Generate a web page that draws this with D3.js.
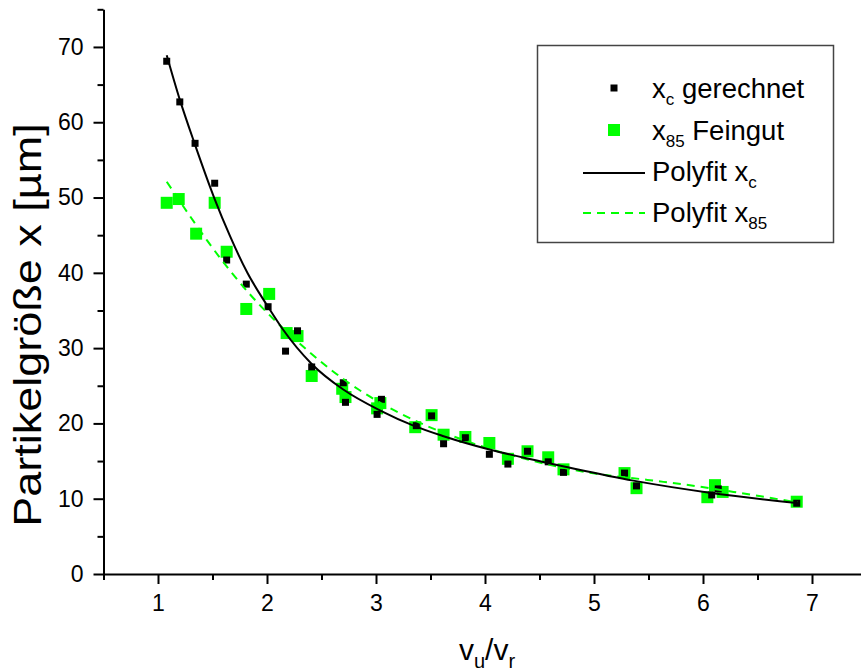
<!DOCTYPE html>
<html>
<head>
<meta charset="utf-8">
<script src="https://cdn.jsdelivr.net/npm/d3@7"></script>
<style>
  body { margin: 0; background: #fff; }
  svg text { font-family: "Liberation Sans", Arial, sans-serif; }
</style>
</head>
<body>
<div id="chart"></div>
<script>
// x_c gerechnet (black squares)
var xcX = [1.08, 1.20, 1.34, 1.52, 1.63, 1.81, 2.01, 2.17, 2.28, 2.41, 2.70, 2.72, 3.01, 3.05,
           3.37, 3.51, 3.62, 3.82, 4.04, 4.21, 4.39, 4.58, 4.72, 5.28, 5.39, 6.08, 6.14, 6.86];
var xcY = [68.1, 62.7, 57.2, 51.9, 41.7, 38.5, 35.5, 29.6, 32.3, 27.5, 25.4, 22.8, 21.2, 23.2,
           19.7, 21.0, 17.3, 18.1, 15.9, 14.6, 16.3, 14.9, 13.5, 13.4, 11.7, 10.5, 11.3, 9.4];

// x_85 Feingut (green squares)
var x85X = [1.08, 1.19, 1.35, 1.52, 1.63, 1.81, 2.02, 2.18, 2.28, 2.41, 2.69, 2.72, 3.01, 3.04,
            3.36, 3.51, 3.62, 3.82, 4.04, 4.21, 4.39, 4.58, 4.72, 5.28, 5.39, 6.04, 6.11, 6.18, 6.86];
var x85Y = [49.3, 49.8, 45.2, 49.3, 42.8, 35.2, 37.2, 32.0, 31.6, 26.3, 24.6, 23.5, 22.0, 22.7,
            19.5, 21.1, 18.5, 18.2, 17.4, 15.3, 16.3, 15.5, 13.9, 13.4, 11.4, 10.2, 11.8, 10.9, 9.6];

// Polyfit x_c
var fitXcX = [1.08, 1.20, 1.34, 1.52, 1.66, 1.82, 2.00, 2.14, 2.41, 2.70, 3.04, 3.36, 3.62, 4.05, 4.40, 4.75, 5.36, 6.06, 6.88];
var fitXcY = [68.9, 63.0, 57.0, 49.8, 44.9, 40.0, 35.7, 32.6, 27.9, 24.5, 21.7, 19.6, 18.3, 16.5, 15.3, 14.2, 12.4, 10.8, 9.4];

// Polyfit x_85
var fit85X = [1.08, 1.29, 1.45, 1.66, 1.84, 2.05, 2.38, 2.58, 2.84, 3.16, 3.43, 3.80, 4.26, 4.69, 4.94, 5.49, 5.97, 6.28, 6.87];
var fit85Y = [52.1, 47.6, 44.3, 40.3, 37.2, 34.0, 29.6, 27.2, 24.5, 21.8, 19.9, 17.8, 15.7, 14.2, 13.5, 12.5, 11.6, 10.9, 9.5];

var xTicks = [1, 2, 3, 4, 5, 6, 7];
var xMinor = [0.5, 1.5, 2.5, 3.5, 4.5, 5.5, 6.5, 7.5];
var yTicks = [0, 10, 20, 30, 40, 50, 60, 70];
var yMinor = [5, 15, 25, 35, 45, 55, 65, 75];

var W = 861, H = 672;
var green = "#00ff00";

var svg = d3.select("#chart").append("svg")
  .attr("width", W)
  .attr("height", H);

var x = d3.scaleLinear().domain([0.5, 7.5]).range([103.5, 866.5]);
var y = d3.scaleLinear().domain([0, 75]).range([574, 9.3]);

function styleAxis(g) {
  g.selectAll("path, line").attr("stroke", "#000").attr("stroke-width", 2);
  g.selectAll("text").attr("font-size", 23).attr("fill", "#000");
}

// minor ticks first, then major axes on top
svg.append("g").attr("transform", "translate(0,574)")
  .call(d3.axisBottom(x).tickValues(xMinor).tickSize(6).tickFormat("").tickSizeOuter(0))
  .call(styleAxis).select(".domain").remove();
svg.append("g").attr("transform", "translate(103.5,0)")
  .call(d3.axisLeft(y).tickValues(yMinor).tickSize(6).tickFormat("").tickSizeOuter(0))
  .call(styleAxis).select(".domain").remove();

svg.append("g").attr("transform", "translate(0,574)")
  .call(d3.axisBottom(x).tickValues(xTicks).tickFormat(d3.format("d"))
    .tickSize(10).tickPadding(11).tickSizeOuter(0))
  .call(styleAxis);
svg.append("g").attr("transform", "translate(103.5,0)")
  .call(d3.axisLeft(y).tickValues(yTicks).tickFormat(d3.format("d"))
    .tickSize(10).tickPadding(10).tickSizeOuter(0))
  .call(styleAxis);

// markers
var gs = 12, bs = 7;
svg.append("g").selectAll("rect")
  .data(d3.range(x85X.length))
  .enter().append("rect")
  .attr("x", function(i) { return x(x85X[i]) - gs / 2; })
  .attr("y", function(i) { return y(x85Y[i]) - gs / 2; })
  .attr("width", gs).attr("height", gs)
  .attr("fill", green);

svg.append("g").selectAll("rect")
  .data(d3.range(xcX.length))
  .enter().append("rect")
  .attr("x", function(i) { return x(xcX[i]) - bs / 2; })
  .attr("y", function(i) { return y(xcY[i]) - bs / 2; })
  .attr("width", bs).attr("height", bs)
  .attr("fill", "#000");

// fit lines
var line = d3.line()
  .x(function(d) { return x(d[0]); })
  .y(function(d) { return y(d[1]); })
  .curve(d3.curveMonotoneX);

svg.append("path")
  .attr("d", line(d3.zip(fit85X, fit85Y)))
  .attr("fill", "none").attr("stroke", green).attr("stroke-width", 2)
  .attr("stroke-dasharray", "8,6");

svg.append("path")
  .attr("d", line(d3.zip(fitXcX, fitXcY)))
  .attr("fill", "none").attr("stroke", "#000").attr("stroke-width", 2);

// axis titles (y title is a bit narrow in the original)
svg.append("text")
  .attr("transform", "translate(41,325) rotate(-90) scale(1,0.86)")
  .attr("text-anchor", "middle")
  .attr("font-size", 45)
  .text("Partikelgröße x [µm]");

var xt = svg.append("text")
  .attr("x", 487).attr("y", 660)
  .attr("text-anchor", "middle")
  .attr("font-size", 30);
xt.append("tspan").text("v");
xt.append("tspan").attr("font-size", 20).attr("dy", 8).text("u");
xt.append("tspan").attr("dy", -8).text("/v");
xt.append("tspan").attr("font-size", 20).attr("dy", 8).text("r");

// legend
var lg = svg.append("g");
lg.append("rect")
  .attr("x", 537.5).attr("y", 45.5).attr("width", 296).attr("height", 197)
  .attr("fill", "#fff").attr("stroke", "#444").attr("stroke-width", 1.5);

var tx = 652, fs = 27.5, sub = 17;
function legText(yb, main, s, rest) {
  var t = lg.append("text").attr("x", tx).attr("y", yb).attr("font-size", fs);
  t.append("tspan").text(main);
  t.append("tspan").attr("font-size", sub).attr("dy", 7).text(s);
  if (rest) t.append("tspan").attr("dy", -7).text(rest);
}

lg.append("rect").attr("x", 614 - bs / 2).attr("y", 88 - bs / 2).attr("width", bs).attr("height", bs).attr("fill", "#000");
legText(98, "x", "c", " gerechnet");
lg.append("rect").attr("x", 614 - gs / 2).attr("y", 130 - gs / 2).attr("width", gs).attr("height", gs).attr("fill", green);
legText(140, "x", "85", " Feingut");
lg.append("line").attr("x1", 583).attr("x2", 645).attr("y1", 173).attr("y2", 173)
  .attr("stroke", "#000").attr("stroke-width", 2);
legText(181, "Polyfit x", "c", null);
lg.append("line").attr("x1", 583).attr("x2", 645).attr("y1", 213).attr("y2", 213)
  .attr("stroke", green).attr("stroke-width", 2).attr("stroke-dasharray", "8,6");
legText(222, "Polyfit x", "85", null);
</script>
</body>
</html>
